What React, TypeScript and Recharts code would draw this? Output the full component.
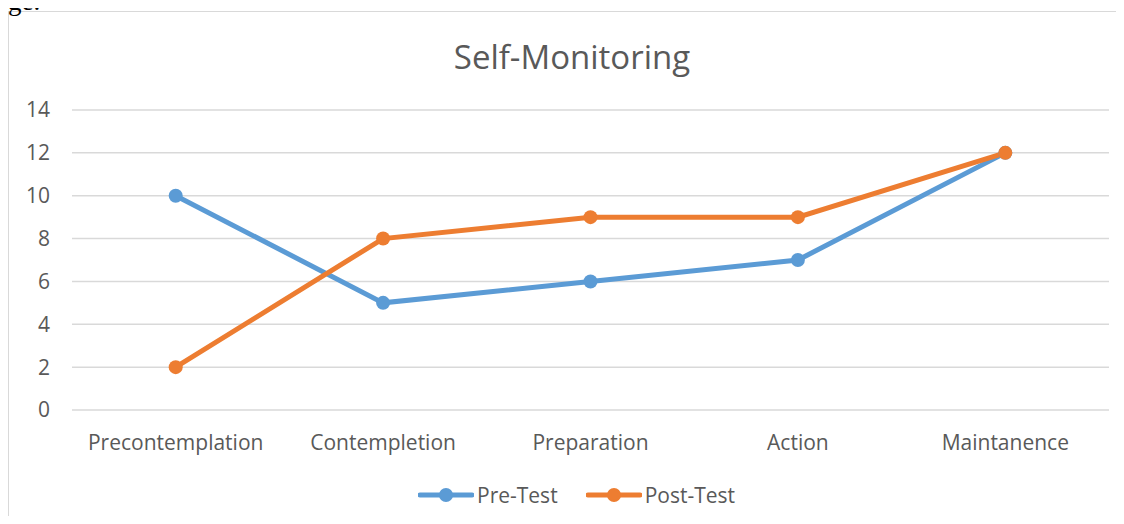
import React from "react";
import { LineChart, Line, XAxis, YAxis, CartesianGrid, Legend } from "recharts";

const stages = ["Precontemplation", "Contempletion", "Preparation", "Action", "Maintanence"];
const preTest = [10, 5, 6, 7, 12];
const postTest = [2, 8, 9, 9, 12];
const yTicks = [0, 2, 4, 6, 8, 10, 12, 14];
const seriesOrder = ["Pre-Test", "Post-Test"];

const data = stages.map((stage, i) => ({ stage, pre: preTest[i], post: postTest[i] }));

const FONT = "'Open Sans', Lato, sans-serif";
const TEXT = "#595959";

const LegendContent = ({ payload }: { payload?: Array<{ value: string; color: string }> }) => {
  const items = [...(payload || [])].sort(
    (a, b) => seriesOrder.indexOf(a.value) - seriesOrder.indexOf(b.value)
  );
  return (
    <div style={{ display: "flex", justifyContent: "center", gap: 28, fontFamily: FONT, fontSize: 21, color: TEXT }}>
      {items.map((p) => (
        <div key={p.value} style={{ display: "flex", alignItems: "center" }}>
          <svg width={56} height={16} style={{ marginRight: 3 }}>
            <line x1={2} y1={8} x2={54} y2={8} stroke={p.color} strokeWidth={5} strokeLinecap="round" />
            <circle cx={28} cy={8} r={7} fill={p.color} />
          </svg>
          <span>{p.value}</span>
        </div>
      ))}
    </div>
  );
};

export default function App() {
  return (
    <div style={{ position: "relative", width: 1124, height: 524, margin: -8, overflow: "hidden", background: "#fff" }}>
      {/* tail of the document text above the chart */}
      <svg width={120} height={20} style={{ position: "absolute", left: 0, top: 0, zIndex: 5 }}>
        <text x={-4} y={10} fontFamily="'Liberation Serif', 'DejaVu Serif', serif" fontSize={27} fill="#000">
          age.
        </text>
      </svg>
      <div
        style={{
          position: "absolute",
          left: 8,
          top: 11,
          width: 1200,
          height: 600,
          borderLeft: "1px solid #d9d9d9",
          borderTop: "1px solid #d9d9d9",
        }}
      />
      <div
        style={{
          position: "absolute",
          left: 0,
          width: 1144,
          top: 34,
          textAlign: "center",
          fontFamily: FONT,
          fontSize: 33,
          color: TEXT,
        }}
      >
        Self-Monitoring
      </div>
      <div style={{ position: "absolute", left: 0, top: 0 }}>
        <LineChart width={1124} height={524} data={data} margin={{ top: 110, right: 15, bottom: 56, left: 0 }}>
          <CartesianGrid vertical={false} stroke="#d9d9d9" strokeWidth={1.5} />
          <XAxis
            dataKey="stage"
            axisLine={false}
            tickLine={false}
            tickMargin={19}
            height={30}
            padding={{ left: 103.7, right: 103.7 }}
            tick={{ fill: TEXT, fontSize: 21, fontFamily: FONT }}
          />
          <YAxis
            width={72}
            domain={[0, 14]}
            ticks={yTicks}
            axisLine={false}
            tickLine={false}
            tickMargin={16}
            tick={{ fill: TEXT, fontSize: 21, fontFamily: FONT }}
          />
          <Legend
            verticalAlign="bottom"
            content={<LegendContent />}
            wrapperStyle={{ bottom: 15, left: 0, width: 1153 }}
          />
          <Line
            name="Pre-Test"
            dataKey="pre"
            stroke="#5B9BD5"
            strokeWidth={5}
            dot={{ r: 7, fill: "#5B9BD5", stroke: "#5B9BD5", strokeWidth: 0 }}
            activeDot={false}
            isAnimationActive={false}
          />
          <Line
            name="Post-Test"
            dataKey="post"
            stroke="#ED7D31"
            strokeWidth={5}
            dot={{ r: 7, fill: "#ED7D31", stroke: "#ED7D31", strokeWidth: 0 }}
            activeDot={false}
            isAnimationActive={false}
          />
        </LineChart>
      </div>
    </div>
  );
}
